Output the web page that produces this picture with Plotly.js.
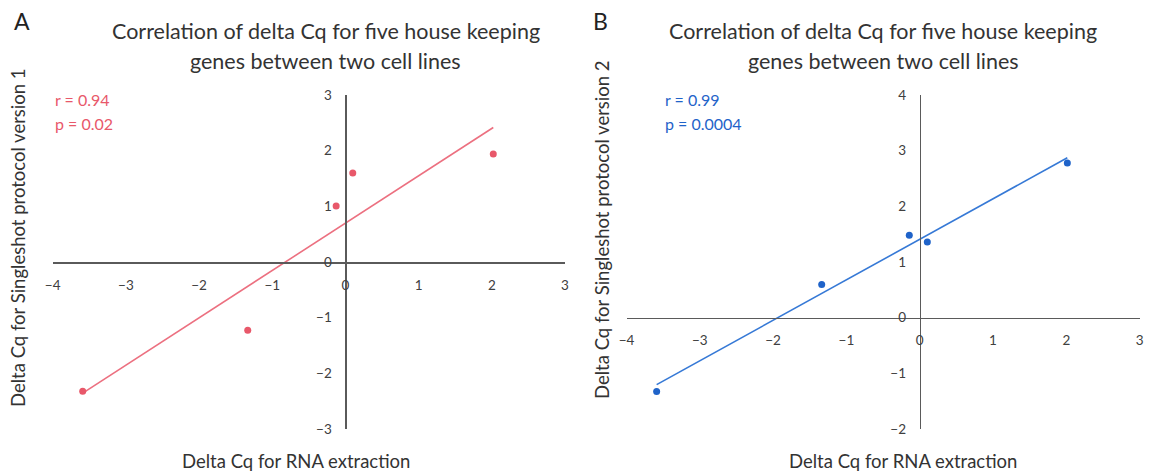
<!DOCTYPE html>
<html><head><meta charset="utf-8">
<script src="https://cdn.plot.ly/plotly-3.0.1.min.js"></script>
<style>html,body{margin:0;padding:0;background:#fff}</style>
</head><body><div id="chart" style="width:1157px;height:474px"></div>
<script>
// ---- data ----
const xA = [-3.59, -1.335, -0.127, 0.10, 2.02];
const yA = [-2.32, -1.228, 1.005, 1.60, 1.94];
const xB = [-3.589, -1.337, -0.142, 0.104, 2.014];
const yB = [-1.325, 0.596, 1.48, 1.36, 2.78];
const xTicks = [-4, -3, -2, -1, 0, 1, 2, 3];
const yTicksA = [-3, -2, -1, 0, 1, 2, 3];
const yTicksB = [-2, -1, 0, 1, 2, 3, 4];
const statsA = ['r = 0.94', 'p = 0.02'];
const statsB = ['r = 0.99', 'p = 0.0004'];
const panelLabels = ['A', 'B'];
const titleLines = ['Correlation of delta Cq for five house keeping', 'genes between two cell lines'];
const xTitle = 'Delta Cq for RNA extraction';
const yTitleA = 'Delta Cq for Singleshot protocol version 1';
const yTitleB = 'Delta Cq for Singleshot protocol version 2';

// ---- helpers ----
const W = 1157, H = 474;
const px = v => v / W, py = v => 1 - v / H;
function fit(x, y) {
  const n = x.length, mx = x.reduce((a, b) => a + b) / n, my = y.reduce((a, b) => a + b) / n;
  let sxy = 0, sxx = 0;
  for (let i = 0; i < n; i++) { sxy += (x[i] - mx) * (y[i] - my); sxx += (x[i] - mx) ** 2; }
  const m = sxy / sxx; return [m, my - m * mx];
}
function trend(x, y) {
  const [m, b] = fit(x, y);
  const lo = Math.min(...x), hi = Math.max(...x);
  return { x: [lo, hi], y: [m * lo + b, m * hi + b] };
}
const FONT = 'Lato, Carlito, Calibri, sans-serif';
const pink = '#E8586A', pinkLine = '#EC7080';
const blue = '#1F63C9', blueLine = '#3679D6';
const axisCol = '#5a5a5a', tickCol = '#404040';

const domA = [px(52.7), px(565)], domB = [px(626.5), px(1139.6)];
const domY = [py(429), py(95)];
const xRange = [-4, 3], yRangeA = [-3, 3], yRangeB = [-2, 4];
function zeroPos(dom, range) { return dom[0] + (dom[1] - dom[0]) * (0 - range[0]) / (range[1] - range[0]); }

const tA = trend(xA, yA), tB = trend(xB, yB);
const traces = [
  { x: tA.x, y: tA.y, mode: 'lines', line: { color: pinkLine, width: 1.6 }, xaxis: 'x', yaxis: 'y', hoverinfo: 'skip' },
  { x: xA, y: yA, mode: 'markers', marker: { color: pink, size: 7 }, xaxis: 'x', yaxis: 'y' },
  { x: tB.x, y: tB.y, mode: 'lines', line: { color: blueLine, width: 1.6 }, xaxis: 'x2', yaxis: 'y2', hoverinfo: 'skip' },
  { x: xB, y: yB, mode: 'markers', marker: { color: blue, size: 7 }, xaxis: 'x2', yaxis: 'y2' }
];

function xAx(dom, yDom, yRange) {
  return { domain: dom, range: xRange, anchor: 'free', position: zeroPos(yDom, yRange),
    showline: true, linecolor: axisCol, linewidth: 1.5, zeroline: false, showgrid: false,
    tickmode: 'array', tickvals: xTicks, ticks: '', ticklabelstandoff: 10,
    tickfont: { family: FONT, size: 13.5, color: tickCol }, fixedrange: true };
}
function yAx(yRange, yTicks, xDom) {
  return { domain: domY, range: yRange, anchor: 'free', position: zeroPos(xDom, xRange),
    showline: true, linecolor: axisCol, linewidth: 1.5, zeroline: false, showgrid: false,
    tickmode: 'array', tickvals: yTicks, ticks: '', ticklabelstandoff: 11,
    tickfont: { family: FONT, size: 13.5, color: tickCol }, fixedrange: true };
}

const ann = [];
function txt(text, x, y, size, color, opts) {
  ann.push(Object.assign({ text, x: px(x), y: py(y), xref: 'paper', yref: 'paper', showarrow: false,
    xanchor: 'center', yanchor: 'middle', font: { family: FONT, size, color } }, opts || {}));
}
// panel A
txt(panelLabels[0], 22, 21, 23, '#222');
txt(titleLines[0], 326, 31, 21.5, '#333');
txt(titleLines[1], 326, 61, 21.5, '#333');
txt(statsA[0], 53, 100, 16, pink, { xanchor: 'left' });
txt(statsA[1], 53, 123, 16, pink, { xanchor: 'left' });
txt(xTitle, 296, 461, 18.5, '#333');
txt(yTitleA, 18, 238, 18.5, '#333', { textangle: -90 });
// panel B
txt(panelLabels[1], 600, 21, 23, '#222');
txt(titleLines[0], 883, 31, 21.5, '#333');
txt(titleLines[1], 883, 61, 21.5, '#333');
txt(statsB[0], 663, 100, 16, blue, { xanchor: 'left' });
txt(statsB[1], 663, 123, 16, blue, { xanchor: 'left' });
txt(xTitle, 903, 461, 18.5, '#333');
txt(yTitleB, 602, 230, 18.5, '#333', { textangle: -90 });

const layout = {
  width: W, height: H, margin: { l: 0, r: 0, t: 0, b: 0 },
  paper_bgcolor: '#fff', plot_bgcolor: '#fff', showlegend: false,
  font: { family: FONT },
  xaxis: xAx(domA, domY, yRangeA),
  yaxis: yAx(yRangeA, yTicksA, domA),
  xaxis2: xAx(domB, domY, yRangeB),
  yaxis2: yAx(yRangeB, yTicksB, domB),
  annotations: ann
};
Plotly.newPlot('chart', traces, layout, { displayModeBar: false, staticPlot: true });
</script></body></html>
